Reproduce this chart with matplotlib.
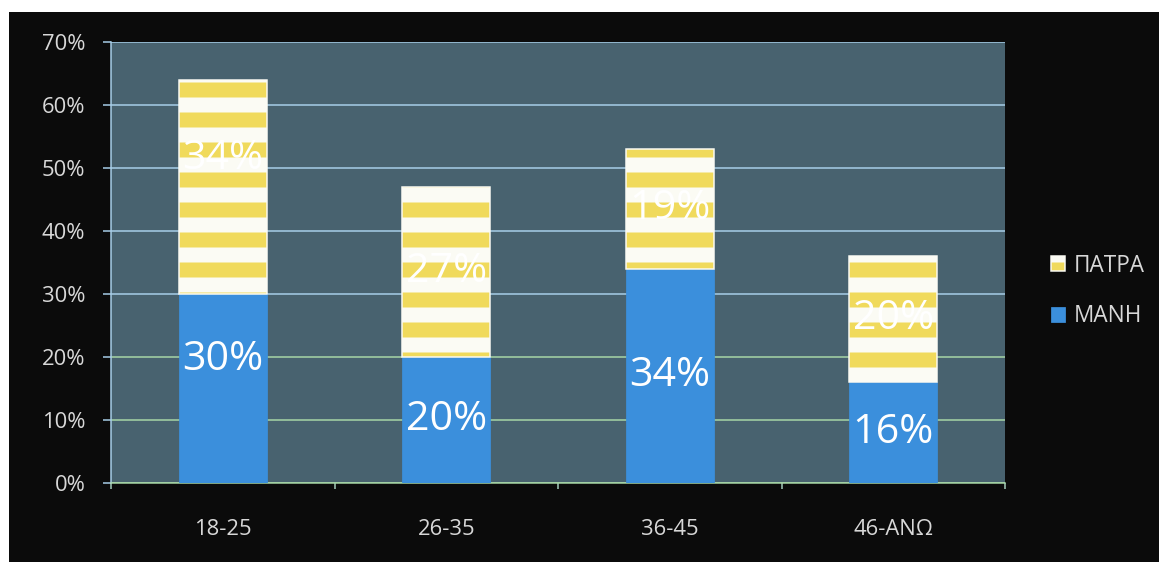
import matplotlib
matplotlib.use('Agg')
import matplotlib.pyplot as plt
import numpy as np
from matplotlib.patches import Rectangle

# ---- data ----
categories = ['18-25', '26-35', '36-45', '46-ΑΝΩ']
mani = [30, 20, 34, 16]
patra = [34, 27, 19, 20]
name_mani = 'ΜΑΝΗ'
name_patra = 'ΠΑΤΡΑ'
yticks = [0, 10, 20, 30, 40, 50, 60, 70]

# ---- layout / style ----
W, H, DPI = 1159, 562, 180
label_shift = [4.5, 0, 0, 0]   # manual upward shift of labels (in % units) per category

plt.rcParams['font.family'] = ['Open Sans', 'DejaVu Sans']
plt.rcParams['hatch.linewidth'] = 6.0

fig = plt.figure(figsize=(W / DPI, H / DPI), dpi=DPI, facecolor='white')
fig.patches.append(Rectangle((9 / W, 0), 1, (H - 12) / H, transform=fig.transFigure,
                             facecolor='#0b0b0b', edgecolor='none', zorder=-10))

ax = fig.add_axes([111 / W, 79 / H, 894 / W, 441 / H])
ax.set_facecolor('#48626f')
ax.set_axisbelow(True)

x = np.arange(len(categories))
bw = 0.394
b_mani = ax.bar(x, mani, width=bw, color='#3b8fdc', edgecolor='#3b8fdc', linewidth=0.3,
                label=name_mani, zorder=3)
b_patra = ax.bar(x, patra, bottom=mani, width=bw, facecolor='#f0da5c', edgecolor='#fbfbf4',
                 hatch='-', linewidth=0.6, label=name_patra, zorder=3)

for i in range(len(categories)):
    ax.text(x[i], mani[i] / 2 + label_shift[i], f'{mani[i]}%', ha='center', va='center',
            color='white', fontsize=16.5, zorder=5)
    ax.text(x[i], mani[i] + patra[i] / 2 + label_shift[i], f'{patra[i]}%', ha='center',
            va='center', color='white', fontsize=16.5, zorder=5)

ax.set_xlim(-0.5, len(categories) - 0.5)
ax.set_ylim(0, 70)
ax.set_yticks(yticks)
ax.set_yticklabels([f'{v}%' for v in yticks])
ax.set_xticks(x)
ax.set_xticklabels(categories)
ax.set_xticks(np.arange(len(categories) + 1) - 0.5, minor=True)

ax.yaxis.grid(True, color='#a9d0ea', linewidth=0.6)
for gl, v in zip(ax.get_ygridlines(), yticks):
    if v <= 20:
        gl.set_color('#a8d8a8')

ax.tick_params(axis='y', colors='#a9d0ea', labelcolor='#d8d8d8', labelsize=8.8,
               length=3.2, width=0.6, pad=7)
ax.tick_params(axis='x', which='major', length=0, labelcolor='#d8d8d8', labelsize=8.8, pad=14.5)
ax.tick_params(axis='x', which='minor', length=2.4, width=0.6, colors='#a8d0c0')

for s in ['top', 'right']:
    ax.spines[s].set_visible(False)
ax.spines['left'].set_color('#a9d0ea')
ax.spines['left'].set_linewidth(0.6)
ax.spines['bottom'].set_color('#a8d8a8')
ax.spines['bottom'].set_linewidth(0.6)

fig.legend([b_patra, b_mani], [name_patra, name_mani], loc='center left',
           bbox_to_anchor=(1040 / W, (H - 291) / H), frameon=False, fontsize=9,
           labelcolor='#d8d8d8', handlelength=0.6, handleheight=0.6,
           handletextpad=0.4, labelspacing=1.2, borderpad=0)

fig.savefig('out.png', dpi=DPI, facecolor=fig.get_facecolor())
